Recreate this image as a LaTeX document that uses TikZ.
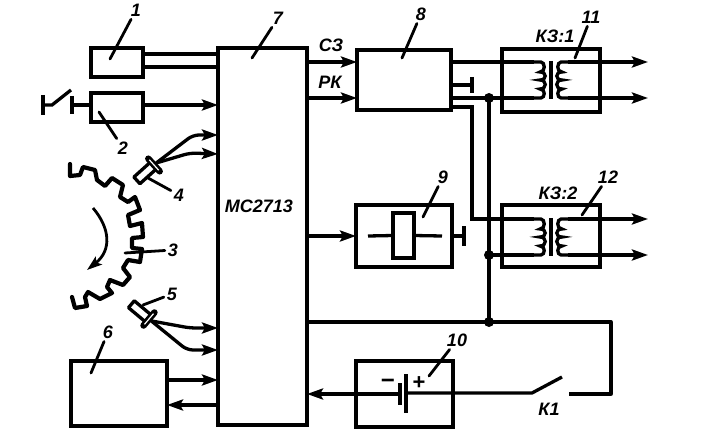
\documentclass[tikz,border=0pt]{standalone}
\usepackage{fontspec}
\setmainfont{Liberation Sans}
\usepackage{tikz}
\usetikzlibrary{arrows.meta, calc}

\newcommand{\labfont}{\fontsize{18}{18}\selectfont\bfseries\itshape}

\tikzset{
    trafo/.pic={
        \draw[line width=3.6pt] (0,-1) -- (0,37);
        \draw (-17,0) -- (-10,0) .. controls (-6,0) and (-5,10) .. (-11,10)
            .. controls (-4,10) and (-4,18) .. (-11,18)
            .. controls (-4,18) and (-4,27) .. (-11,27)
            .. controls (-5,27) and (-6,36) .. (-10,36) -- (-17,36);
        \draw (17,0) -- (10,0) .. controls (6,0) and (5,10) .. (11,10)
            .. controls (4,10) and (4,18) .. (11,18)
            .. controls (4,18) and (4,27) .. (11,27)
            .. controls (5,27) and (6,36) .. (10,36) -- (17,36);
        \coordinate (-p1) at (-17,0);
        \coordinate (-p2) at (-17,36);
        \coordinate (-s1) at (17,0);
        \coordinate (-s2) at (17,36);
    },
    sensorpic/.pic={
        \draw[line join=round] (0,-4.5) -- (23,-4.5) -- (23,4.5) -- (0,4.5);
        \draw[line width=6.5pt, line cap=round] (0,-8.5) -- (0,8.5);
        \draw[white, line width=1.2pt] (0,-7) -- (0,7);
        \coordinate (-lead) at (-3,0);
    }
}

\begin{document}
\begin{tikzpicture}[x=1pt, y=-1pt, line width=3.3pt,
    blockbox/.style={draw, rectangle, inner sep=0pt, outer sep=0pt},
    lab/.style={font=\labfont, inner sep=1.5pt},
    leader/.style={line width=2.8pt, line cap=round},
    arr/.style={-{Stealth[length=16pt, width=11pt, inset=3pt]}},
    dot/.style={circle, fill, inner sep=0pt, minimum size=10pt}]
    \useasboundingbox (0,0) rectangle (715,441);

    % Blocks
    \node[blockbox, minimum width=52pt, minimum height=29pt] (b1) at (117,62.5) {};
    \node[blockbox, minimum width=52pt, minimum height=29pt] (b2) at (117,107.5) {};
    \node[blockbox, minimum width=96pt, minimum height=65pt] (b6) at (119,393.5) {};
    \node[blockbox, minimum width=89pt, minimum height=377pt] (b7) at (262.5,236.5) {};
    \node[blockbox, minimum width=94pt, minimum height=60pt] (b8) at (404,80) {};
    \node[blockbox, minimum width=96pt, minimum height=62pt] (b9) at (404,236) {};
    \node[blockbox, minimum width=97pt, minimum height=66pt] (b10) at (404.5,394) {};
    \node[blockbox, minimum width=98pt, minimum height=63pt] (b11) at (551,80.5) {};
    \node[blockbox, minimum width=98pt, minimum height=62pt] (b12) at (551,236) {};
    \node[font=\labfont] (mc) at (259,206) {МС2713};

    % Block 1, block 2 and contact
    \draw ([yshift=8.5pt]b1.east) -- ([yshift=8.5pt]b1.east -| b7.west);
    \draw ([yshift=-4.5pt]b1.east) -- ([yshift=-4.5pt]b1.east -| b7.west);
    \draw[arr] ([yshift=2.5pt]b2.east) -- ([yshift=2.5pt]b2.east -| b7.west);
    \coordinate (st2) at (72,105);
    \coordinate (sw2) at (52,105);
    \coordinate (sw2end) at (71,90);
    \coordinate (gnd2) at (43,105);
    \draw ([yshift=2.5pt]b2.west) -- (st2);
    \draw (st2 |- 0,96) -- (st2 |- 0,114);
    \draw (gnd2 |- 0,95) -- (gnd2 |- 0,115);
    \draw (gnd2) -- (sw2) -- (sw2end);

    % Toothed disc
    \draw[line join=round, line cap=round, line width=4.2pt] (70,164) -- (70,176) -- (80,175) -- (83,167) -- (95,170) -- (97,180)
        -- (105,186) -- (112,178) -- (123,185) -- (120,197) -- (128,202) -- (135,197)
        -- (140,210) -- (128,215) -- (130,226) -- (142,223) -- (143,237) -- (132,238)
        -- (132,248) -- (142,249) -- (140,262) -- (128,260) -- (123,268) -- (130,277)
        -- (123,285) -- (110,280) -- (107,287) -- (112,293) -- (100,299) -- (88,292)
        -- (85,297) -- (87,306) -- (75,308) -- (72,297);
    \draw[line width=2.8pt, -{Stealth[length=15pt, width=10pt, inset=3pt]}] (93,208) .. controls (110,228) and (112,250) .. (87,270);

    % Sensors
    \coordinate (in4a) at (b7.west |- 0,135);
    \coordinate (in4b) at (b7.west |- 0,154);
    \coordinate (in5a) at (b7.west |- 0,328);
    \coordinate (in5b) at (b7.west |- 0,350);
    \pic[rotate=222] (s4) at (154,165) {sensorpic};
    \pic[rotate=140] (s5) at (149,319) {sensorpic};
    \draw[arr, rounded corners=6pt] (s4-lead) -- (193,135) -- (in4a);
    \draw[arr, rounded corners=6pt] (s4-lead) -- (190,153) -- (in4b);
    \draw[arr, rounded corners=6pt] (s5-lead) -- (190,328) -- (in5a);
    \draw[arr, rounded corners=6pt] (s5-lead) -- (187,350) -- (in5b);

    % Block 6 links
    \coordinate (q6a) at ([yshift=13.5pt]b6.east);
    \coordinate (q6b) at ([yshift=-11.5pt]b6.east);
    \draw[arr] (q6a) -- (q6a -| b7.west);
    \draw[arr] (q6b -| b7.west) -- (q6b);

    % Block 8 inputs and outputs
    \coordinate (c3) at ([yshift=18pt]b8.west);
    \coordinate (pk) at ([yshift=-18pt]b8.west);
    \draw[arr] (c3 -| b7.east) -- (c3);
    \draw[arr] (pk -| b7.east) -- (pk);
    \coordinate (t8) at ([yshift=-27pt]b8.east);
    \coordinate (g8) at ([yshift=-5pt]b8.east);
    \draw (g8) -- (g8 -| 472,0);
    \draw (472,77) -- (472,93);

    % Transformers
    \pic (tr1) at (551,62) {trafo};
    \pic (tr2) at (551,219) {trafo};
    \coordinate (o1) at (648,0);
    \draw (b8.east |- tr1-p1) -- (tr1-p1);
    \draw (b8.east |- tr1-p2) -- (tr1-p2);
    \draw[arr] (tr1-s1) -- (tr1-s1 -| o1);
    \draw[arr] (tr1-s2) -- (tr1-s2 -| o1);
    \draw[arr] (tr2-s1) -- (tr2-s1 -| o1);
    \draw[arr] (tr2-s2) -- (tr2-s2 -| o1);
    \draw (t8) -| (472,150) |- (tr2-p1);

    % Supply bus
    \coordinate (j1) at (489,98);
    \coordinate (j2) at (489,255);
    \coordinate (j3) at (489,322);
    \draw (j2) -- (tr2-p2);
    \draw (j1) -- (j3);
    \node[dot] (d1) at (j1) {};
    \node[dot] (d2) at (j2) {};
    \node[dot] (d3) at (j3) {};

    % Block 9
    \node[blockbox, minimum width=21pt, minimum height=45pt] (rel) at (403.5,235.5) {};
    \coordinate (rl) at (368,236);
    \coordinate (rr) at (442,236);
    \draw[arr] (b7.east |- b9.west) -- (b9.west);
    \draw (rl) -- (rel.west);
    \draw (rel.east) -- (rr);
    \draw (b9.east) -- (464,236);
    \draw (464,226) -- (464,246);

    % Block 10 and switch
    \coordinate (bn) at (400,394);
    \coordinate (bp) at (406,393);
    \coordinate (k1a) at (532,393);
    \coordinate (k1b) at (562,377);
    \coordinate (k1c) at (569,394);
    \coordinate (bus) at (611,322);
    \draw[arr] (bn) -- (bn -| b7.east);
    \draw (bn |- 0,383) -- (bn |- 0,405);
    \draw (bp |- 0,374) -- (bp |- 0,413);
    \draw (bp) -- (k1a) -- (k1b);
    \draw[line join=round] (b7.east |- j3) -- (bus) -- (bus |- k1c) -- (k1c);

    % Numbers and leaders
    \node[lab] (n1) at (136,10) {1};
    \coordinate (l1) at (110,59);
    \draw[leader] (n1) -- (l1);
    \node[lab] (n2) at (123,148) {2};
    \coordinate (l2) at (99,112);
    \draw[leader] (n2) -- (l2);
    \node[lab] (n3) at (173,250) {3};
    \coordinate (l3) at (125,253);
    \draw[leader] (n3) -- (l3);
    \node[lab] (n4) at (179,195) {4};
    \coordinate (l4) at (148,178);
    \draw[leader] (n4) -- (l4);
    \node[lab] (n5) at (172,294) {5};
    \coordinate (l5) at (143,305);
    \draw[leader] (n5) -- (l5);
    \node[lab] (n6) at (108,332) {6};
    \coordinate (l6) at (91,373);
    \draw[leader] (n6) -- (l6);
    \node[lab] (n7) at (278,18) {7};
    \coordinate (l7) at (252,58);
    \draw[leader] (n7) -- (l7);
    \node[lab] (n8) at (421,14) {8};
    \coordinate (l8) at (402,58);
    \draw[leader] (n8) -- (l8);
    \node[lab] (n9) at (443,177) {9};
    \coordinate (l9) at (423,217);
    \draw[leader] (n9) -- (l9);
    \node[lab] (n10) at (457,340) {10};
    \coordinate (l10) at (429,376);
    \draw[leader] (n10) -- (l10);
    \node[lab] (n11) at (591,17) {11};
    \coordinate (l11) at (575,58);
    \draw[leader] (n11) -- (l11);
    \node[lab] (n12) at (608,177) {12};
    \coordinate (l12) at (582,215);
    \draw[leader] (n12) -- (l12);

    % Signal names
    \node[lab] (c3lab) at (331,45) {СЗ};
    \node[lab] (pklab) at (330,82) {РК};
    \node[lab] (k31) at (555,36) {КЗ:1};
    \node[lab] (k32) at (558,193) {КЗ:2};
    \node[lab] (k1) at (549,409) {К1};
    \node[lab, font=\fontsize{24}{24}\selectfont\bfseries] (minus) at (388,384) {−};
    \node[lab, font=\fontsize{22}{22}\selectfont\bfseries] (plus) at (419,383) {+};
\end{tikzpicture}
\end{document}
